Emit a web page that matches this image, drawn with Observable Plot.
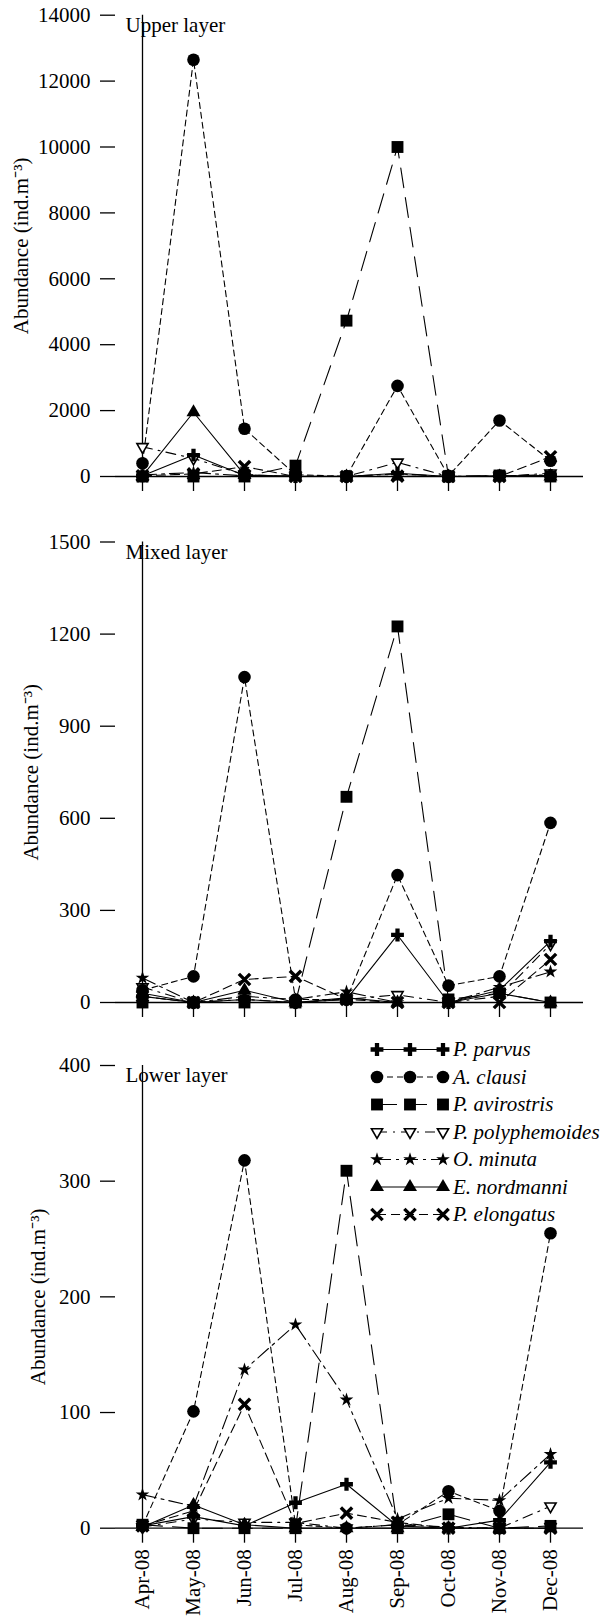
<!DOCTYPE html>
<html><head><meta charset="utf-8">
<script src="https://cdn.jsdelivr.net/npm/d3@7"></script>
<script src="https://cdn.jsdelivr.net/npm/@observablehq/plot@0.6"></script>
<style>
html,body{margin:0;padding:0;background:#fff;overflow:hidden;}
#chart svg{display:block;}
</style></head><body><div id="chart"></div>
<script>
// ---- data ----
const months = ["Apr-08","May-08","Jun-08","Jul-08","Aug-08","Sep-08","Oct-08","Nov-08","Dec-08"];
const speciesNames = ["P. parvus","A. clausi","P. avirostris","P. polyphemoides","O. minuta","E. nordmanni","P. elongatus"];
const panelTitles = ["Upper layer","Mixed layer","Lower layer"];
const yTitle = "Abundance (ind.m\u207B\u00B3)";

const upperTicks = [0,2000,4000,6000,8000,10000,12000,14000];
const mixedTicks = [0,300,600,900,1200,1500];
const lowerTicks = [0,100,200,300,400];

const upperParvus      = [20, 650, 30, 0, 0, 100, 0, 20, 30];
const upperClausi      = [400, 12650, 1450, 50, 10, 2750, 20, 1700, 480];
const upperAvirostris  = [0, 0, 0, 330, 4730, 10000, 0, 30, 0];
const upperPolyph      = [900, 550, 50, 0, 0, 430, 0, 0, 100];
const upperMinuta      = [50, 120, 20, 10, 0, 80, 0, 20, 50];
const upperNordmanni   = [20, 1950, 50, 0, 0, 0, 0, 0, 0];
const upperElongatus   = [20, 80, 300, 0, 0, 10, 0, 0, 600];

const mixedParvus      = [20, 0, 10, 0, 10, 220, 0, 40, 200];
const mixedClausi      = [40, 85, 1060, 10, 10, 415, 55, 85, 585];
const mixedAvirostris  = [0, 0, 0, 0, 670, 1225, 10, 30, 0];
const mixedPolyph      = [50, 0, 10, 0, 10, 25, 0, 20, 190];
const mixedMinuta      = [80, 0, 20, 10, 35, 0, 0, 50, 100];
const mixedNordmanni   = [30, 0, 40, 0, 15, 0, 0, 30, 0];
const mixedElongatus   = [20, 0, 75, 85, 10, 0, 0, 0, 140];

const lowerParvus      = [2, 10, 2, 22, 38, 2, 0, 7, 57];
const lowerClausi      = [2, 101, 318, 3, 0, 3, 32, 15, 255];
const lowerAvirostris  = [3, 0, 0, 0, 309, 0, 12, 0, 2];
const lowerPolyph      = [1, 8, 5, 5, 0, 3, 1, 0, 19];
const lowerMinuta      = [29, 19, 137, 176, 111, 8, 26, 24, 64];
const lowerNordmanni   = [1, 20, 3, 0, 0, 0, 0, 0, 0];
const lowerElongatus   = [2, 15, 107, 4, 13, 5, 0, 0, 0];

// ---- styles ----
const triDown = {
  draw(ctx, size) {
    const w = Math.sqrt(size) * 1.05, h = w * 0.87;
    ctx.moveTo(-w/2, -h/3); ctx.lineTo(w/2, -h/3); ctx.lineTo(0, 2*h/3); ctx.closePath();
  }
};
const styles = [
  {symbol: "cross",    r: 5.4, dash: null,          fill: "#000", stroke: "none", sw: 0},
  {symbol: "circle",   r: 6.3, dash: "6,4",         fill: "#000", stroke: "none", sw: 0},
  {symbol: "square",   r: 6.7, dash: "20,10",       fill: "#000", stroke: "none", sw: 0},
  {symbol: triDown,    r: 6.0, dash: "10,6,2,6",    fill: "#fff", stroke: "#000", sw: 1.6},
  {symbol: "star",     r: 4.3, dash: "14,5,3,5",    fill: "#000", stroke: "none", sw: 0},
  {symbol: "triangle", r: 5.2, dash: null,          fill: "#000", stroke: "none", sw: 0},
  {symbol: "times",    r: 5.2, dash: "9,5",         fill: "none", stroke: "#000", sw: 3.4}
];
const dotOrder = [3, 6, 4, 5, 0, 1, 2];
const FONT = '"Liberation Serif", "Times New Roman", serif';
const FS = 21;

function panel({title, series, ticks, height, marginTop, marginBottom, showLabels, labelDx}) {
  const yMax = ticks[ticks.length - 1];
  const marks = [];
  marks.push(Plot.ruleY([0], {stroke: "#000", strokeWidth: 1.3}));
  marks.push(Plot.ruleX([months[0]], {y1: 0, y2: yMax, stroke: "#000", strokeWidth: 1.3}));
  marks.push(Plot.axisY({ticks, tickSize: 15, tickPadding: 10, tickFormat: d => String(d), label: null, strokeWidth: 1.3, fontSize: FS}));
  marks.push(Plot.axisX({tickSize: 15, tickPadding: 6, tickRotate: showLabels ? -90 : 0,
    tickFormat: showLabels ? (d => d) : (() => ""), label: null, strokeWidth: 1.3, fontSize: FS}));
  const tables = series.map(vals => months.map((m, j) => ({month: m, value: vals[j]})));
  tables.forEach((data, i) => {
    marks.push(Plot.line(data, {x: "month", y: "value", stroke: "#000", strokeWidth: 1.1,
      strokeDasharray: styles[i].dash || undefined}));
  });
  dotOrder.forEach(i => {
    const s = styles[i];
    marks.push(Plot.dot(tables[i], {x: "month", y: "value", symbol: () => s.symbol, r: s.r,
      fill: s.fill, stroke: s.stroke, strokeWidth: s.sw}));
  });
  marks.push(Plot.text([title], {text: d => d, frameAnchor: "top-left", dx: 10, dy: 2,
    textAnchor: "start", lineAnchor: "top", fontSize: FS}));
  // frame centre x = (115 + 583) / 2 = 349
  marks.push(Plot.text([yTitle], {text: d => d, frameAnchor: "middle", rotate: -90, dx: labelDx - 349,
    textAnchor: "middle", lineAnchor: "middle", fontSize: FS}));
  return Plot.plot({
    width: 604, height, marginLeft: 115, marginRight: 21, marginTop, marginBottom,
    x: {type: "point", domain: months, range: [115, 576.7], label: null},
    y: {domain: [0, yMax], label: null},
    style: {fontFamily: FONT, fontSize: FS + "px", color: "#000", background: "#fff", overflow: "visible"},
    marks
  });
}

const chart = document.getElementById("chart");
const p1 = panel({title: panelTitles[0], ticks: upperTicks, height: 510, marginTop: 14.7, marginBottom: 34, showLabels: false, labelDx: 21,
  series: [upperParvus, upperClausi, upperAvirostris, upperPolyph, upperMinuta, upperNordmanni, upperElongatus]});
const p2 = panel({title: panelTitles[1], ticks: mixedTicks, height: 530, marginTop: 31.5, marginBottom: 38, showLabels: false, labelDx: 31,
  series: [mixedParvus, mixedClausi, mixedAvirostris, mixedPolyph, mixedMinuta, mixedNordmanni, mixedElongatus]});
const p3 = panel({title: panelTitles[2], ticks: lowerTicks, height: 577, marginTop: 25, marginBottom: 89.3, showLabels: true, labelDx: 38,
  series: [lowerParvus, lowerClausi, lowerAvirostris, lowerPolyph, lowerMinuta, lowerNordmanni, lowerElongatus]});
chart.append(p1, p2, p3);

// legend inside lower panel
const lg = d3.select(p3).append("g").attr("class", "legend").attr("font-size", FS).attr("font-style", "italic").attr("text-anchor", "start");
speciesNames.forEach((name, i) => {
  const s = styles[i];
  const y = 9.5 + i * 27.5;
  lg.append("line").attr("x1", 377).attr("x2", 443).attr("y1", y).attr("y2", y)
    .attr("stroke", "#000").attr("stroke-width", 1.1).attr("stroke-dasharray", s.dash || null);
  const symType = typeof s.symbol === "string"
    ? {cross: d3.symbolCross, circle: d3.symbolCircle, square: d3.symbolSquare, star: d3.symbolStar, triangle: d3.symbolTriangle, times: d3.symbolTimes}[s.symbol]
    : s.symbol;
  const path = d3.symbol(symType, Math.PI * s.r * s.r)();
  [377, 410, 443].forEach(x => {
    lg.append("path").attr("d", path).attr("transform", `translate(${x},${y})`)
      .attr("fill", s.fill).attr("stroke", s.stroke).attr("stroke-width", s.sw || null);
  });
  lg.append("text").attr("x", 453).attr("y", y).attr("dy", "0.32em").attr("text-anchor", "start").text(name);
});
document.querySelectorAll("#chart text").forEach(t => {
  t.style.setProperty("font-family", FONT, "important");
  if (t.textContent === yTitle) {
    t.setAttribute("text-anchor", "middle");
    t.style.setProperty("text-anchor", "middle", "important");
  }
});
</script>
</body></html>
